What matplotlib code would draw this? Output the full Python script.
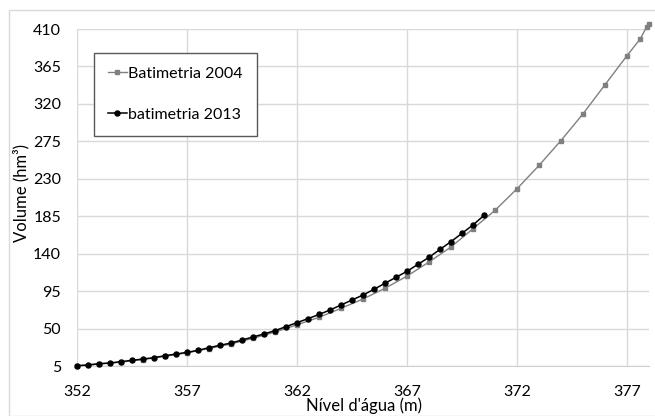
import matplotlib
matplotlib.use("Agg")
import matplotlib.pyplot as plt
from matplotlib.patches import Rectangle

# water level (m) and stored volume (hm3)
level_2004 = [352, 353, 354, 355, 356, 357, 358, 359, 360, 361, 362, 363, 364,
              365, 366, 367, 368, 369, 370, 371, 372, 373, 374, 375, 376, 377,
              377.6, 377.9, 378]
vol_2004 = [5.2, 7.3, 9.7, 12.8, 16.6, 20.8, 26.0, 31.5, 38.3, 45.8, 54.5, 63.5,
            74.3, 85.5, 98.4, 113, 130, 148, 170, 192, 218, 246, 276, 308, 343,
            378, 398, 413, 416]

level_2013 = [352, 352.5, 353, 353.5, 354, 354.5, 355, 355.5, 356, 356.5,
              357, 357.5, 358, 358.5, 359, 359.5, 360, 360.5, 361, 361.5,
              362, 362.5, 363, 363.5, 364, 364.5, 365, 365.5, 366, 366.5,
              367, 367.5, 368, 368.5, 369, 369.5, 370, 370.5]
vol_2013 = [5.4, 6.2, 7.8, 8.6, 10.2, 11.8, 13.4, 15.0, 17.4, 19.4,
            21.4, 23.8, 27.0, 29.9, 32.6, 36.2, 39.9, 43.5, 47.5, 52.3,
            57.1, 61.9, 66.9, 72.3, 78.3, 84.3, 90.3, 97.2, 104.4, 111.6,
            118.8, 127.2, 135.6, 145.2, 154.4, 164.5, 174.5, 186.0]

x_ticks = [352, 357, 362, 367, 372, 377]
y_ticks = [5, 50, 95, 140, 185, 230, 275, 320, 365, 410]

plt.rcParams["font.family"] = ["Lato", "DejaVu Sans"]
W, H = 655, 416
FS = 11.5
fig = plt.figure(figsize=(W / 100, H / 100), dpi=100)
fig.patch.set_facecolor("white")
ax = fig.add_axes([77 / W, 1 - 366 / H, (649 - 77) / W, (366 - 29) / H])

# chart area frame
fig.patches.append(Rectangle((9 / W, 0), 1, 1 - 10 / H, transform=fig.transFigure,
                             fill=False, edgecolor="#d9d9d9", linewidth=1))

ax.plot(level_2004, vol_2004, color="#808080", lw=1.0, marker="s", ms=3.2,
        label="Batimetria 2004", clip_on=False, zorder=3)
ax.plot(level_2013, vol_2013, color="black", lw=1.1, marker="o", ms=3.6,
        label="batimetria 2013", clip_on=False, zorder=4)

ax.set_xlim(352, 378)
ax.set_ylim(5, 410)
ax.set_xticks(x_ticks)
ax.set_yticks(y_ticks)
ax.grid(True, color="#d9d9d9", lw=1)
ax.set_axisbelow(True)
for s in ["top", "right", "left"]:
    ax.spines[s].set_visible(False)
ax.spines["bottom"].set_color("#d0d0d0")
ax.tick_params(length=0, labelsize=FS, colors="#000000")
ax.tick_params(axis="y", pad=11.5)
ax.tick_params(axis="x", pad=13.5)

fig.text(21 / W, 1 - 193 / H, "Volume (hm³)", rotation=90, ha="center",
         va="center", fontsize=12)
fig.text(364 / W, 1 - 406 / H, "Nível d'água (m)", ha="center", va="center",
         fontsize=12)

leg = ax.legend(loc="upper left", bbox_to_anchor=(94 / W, 1 - 53 / H),
                bbox_transform=fig.transFigure, borderaxespad=0, fontsize=FS,
                fancybox=False, edgecolor="#595959", framealpha=1,
                handlelength=1.2, handletextpad=0.1, labelspacing=1.7,
                borderpad=0.85, numpoints=1)
leg.get_frame().set_linewidth(1)

fig.savefig("out.png", dpi=100, facecolor="white")
